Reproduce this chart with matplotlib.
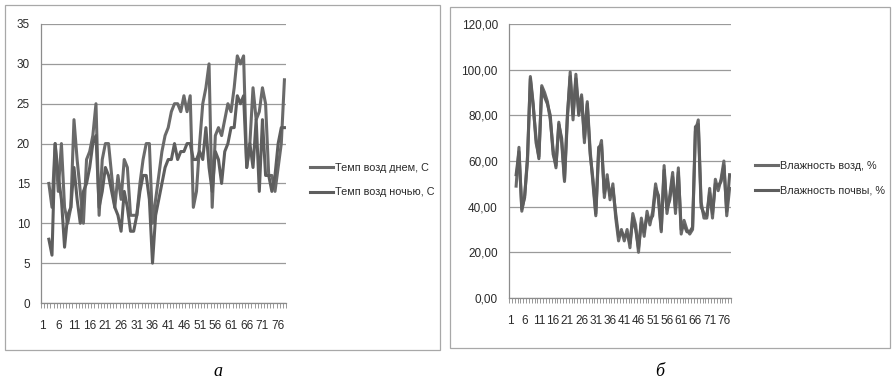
import numpy as np
import matplotlib
matplotlib.use("Agg")
from matplotlib import pyplot as plt
from matplotlib.patches import Rectangle
from matplotlib.ticker import FuncFormatter

# categories 1..78, data starts at category 3
n_cat = 78
days = list(range(3, 79))

temp_day = [15, 12, 20, 14, 20, 12, 10, 12, 23, 18, 14, 10, 18, 19, 21, 25,
            11, 18, 20, 20, 16, 12, 16, 13, 18, 17, 11, 11, 11, 15, 18,
            20, 20, 10, 13, 16, 19, 21, 22, 24, 25, 25, 24, 26, 24, 26,
            12, 14, 20, 25, 27, 30, 12, 21, 22, 21, 23, 25, 24, 27, 31,
            30, 31, 17, 20, 27, 23, 24, 27, 25, 16, 16, 14, 17, 20, 28]
temp_night = [8, 6, 20, 16, 13, 7, 11, 12, 17, 13, 10, 14, 15, 17, 20, 21,
              12, 14, 17, 16, 14, 12, 11, 9, 14, 12, 9, 9, 11, 14, 16,
              16, 13, 5, 11, 13, 15, 17, 18, 18, 20, 18, 19, 19, 20, 20,
              18, 18, 19, 18, 22, 17, 14, 19, 18, 15, 19, 20, 22, 22, 26,
              25, 26, 17, 20, 17, 23, 14, 23, 16, 16, 14, 16, 20, 22, 22]

hum_air = [49, 66, 38, 45, 60, 97, 85, 68, 62, 93, 90, 86, 78, 65, 57, 77,
           68, 51, 78, 99, 78, 98, 82, 89, 68, 86, 65, 50, 36, 64, 69,
           44, 54, 43, 50, 35, 25, 30, 25, 30, 22, 37, 32, 20, 35, 27,
           38, 32, 38, 50, 43, 29, 58, 37, 45, 55, 37, 57, 28, 34, 30,
           28, 30, 73, 78, 42, 35, 35, 48, 35, 52, 47, 52, 60, 36, 48]
hum_soil = [54, 64, 39, 44, 62, 96, 84, 70, 61, 92, 88, 85, 80, 63, 58, 76,
            70, 52, 80, 97, 80, 96, 80, 88, 70, 85, 63, 52, 37, 66, 67,
            46, 52, 45, 48, 37, 27, 29, 27, 28, 24, 35, 30, 22, 33, 29,
            36, 34, 36, 48, 45, 30, 56, 39, 43, 53, 39, 55, 30, 32, 29,
            29, 31, 75, 76, 40, 37, 36, 46, 37, 50, 49, 51, 58, 38, 54]

assert len(temp_day) == len(temp_night) == len(hum_air) == len(hum_soil) == len(days)

tick_labels = list(range(1, 77, 5))

plt.rcParams['font.family'] = ['Liberation Sans', 'DejaVu Sans']

fig = plt.figure(figsize=(8.94, 3.85), dpi=100)
W, H = 894, 385

# panel frames
for x0, y0, x1, y1 in [(5, 5, 440, 350), (450, 7, 890, 348)]:
    fig.add_artist(Rectangle((x0 / W, 1 - y1 / H), (x1 - x0) / W, (y1 - y0) / H,
                             transform=fig.transFigure, fill=False,
                             edgecolor='#a8a8a8', linewidth=0.9))


def setup(ax, ymax, step, fmt):
    ax.set_xlim(0.5, n_cat + 0.5)
    ax.set_ylim(0, ymax)
    ax.set_yticks(np.arange(0, ymax + 0.1, step))
    ax.yaxis.set_major_formatter(FuncFormatter(fmt))
    ax.set_xticks(tick_labels)
    ax.set_xticklabels([str(t) for t in tick_labels])
    ax.set_xticks(np.arange(0.5, n_cat + 1), minor=True)
    ax.tick_params(axis='x', which='major', length=0, pad=12, labelsize=8.5,
                   colors='#2a2a2a')
    ax.tick_params(axis='x', which='minor', length=3.5, width=0.6, color='#888888')
    ax.tick_params(axis='y', length=0, pad=8, labelsize=8.5, colors='#2a2a2a')
    ax.grid(axis='y', color='#9a9a9a', linewidth=0.9)
    ax.set_axisbelow(True)
    for s in ['top', 'right']:
        ax.spines[s].set_visible(False)
    for s in ['left', 'bottom']:
        ax.spines[s].set_color('#8c8c8c')
        ax.spines[s].set_linewidth(0.9)


leg_kw = dict(bbox_transform=fig.transFigure, frameon=False, fontsize=7.8,
              handlelength=2.1, handletextpad=0.15, labelspacing=1.35,
              borderpad=0, labelcolor='#2a2a2a', loc='center left')

ax1 = fig.add_axes([41 / W, 1 - 303 / H, 245 / W, 279 / H])
ax1.plot(days, temp_day, color='#6a6a6a', lw=2.2, label='Темп возд днем, С')
ax1.plot(days, temp_night, color='#5e5e5e', lw=2.2, label='Темп возд ночью, С')
setup(ax1, 35, 5, lambda v, p: f"{v:.0f}")
ax1.legend(bbox_to_anchor=(305 / W, 1 - 180 / H), **leg_kw)

ax2 = fig.add_axes([509 / W, 1 - 298 / H, 222 / W, 274 / H])
ax2.plot(days, hum_air, color='#6a6a6a', lw=2.2, label='Влажность возд, %')
ax2.plot(days, hum_soil, color='#5e5e5e', lw=2.2, label='Влажность почвы, %')
setup(ax2, 120, 20, lambda v, p: f"{v:.2f}".replace('.', ','))
ax2.legend(bbox_to_anchor=(750 / W, 1 - 178 / H), **leg_kw)

fig.text(218 / W, 1 - 372 / H, 'а', family='Liberation Serif', style='italic',
         fontsize=13, ha='center', va='center')
fig.text(660 / W, 1 - 372 / H, 'б', family='Liberation Serif', style='italic',
         fontsize=13, ha='center', va='center')

fig.savefig('out.png', dpi=100)
